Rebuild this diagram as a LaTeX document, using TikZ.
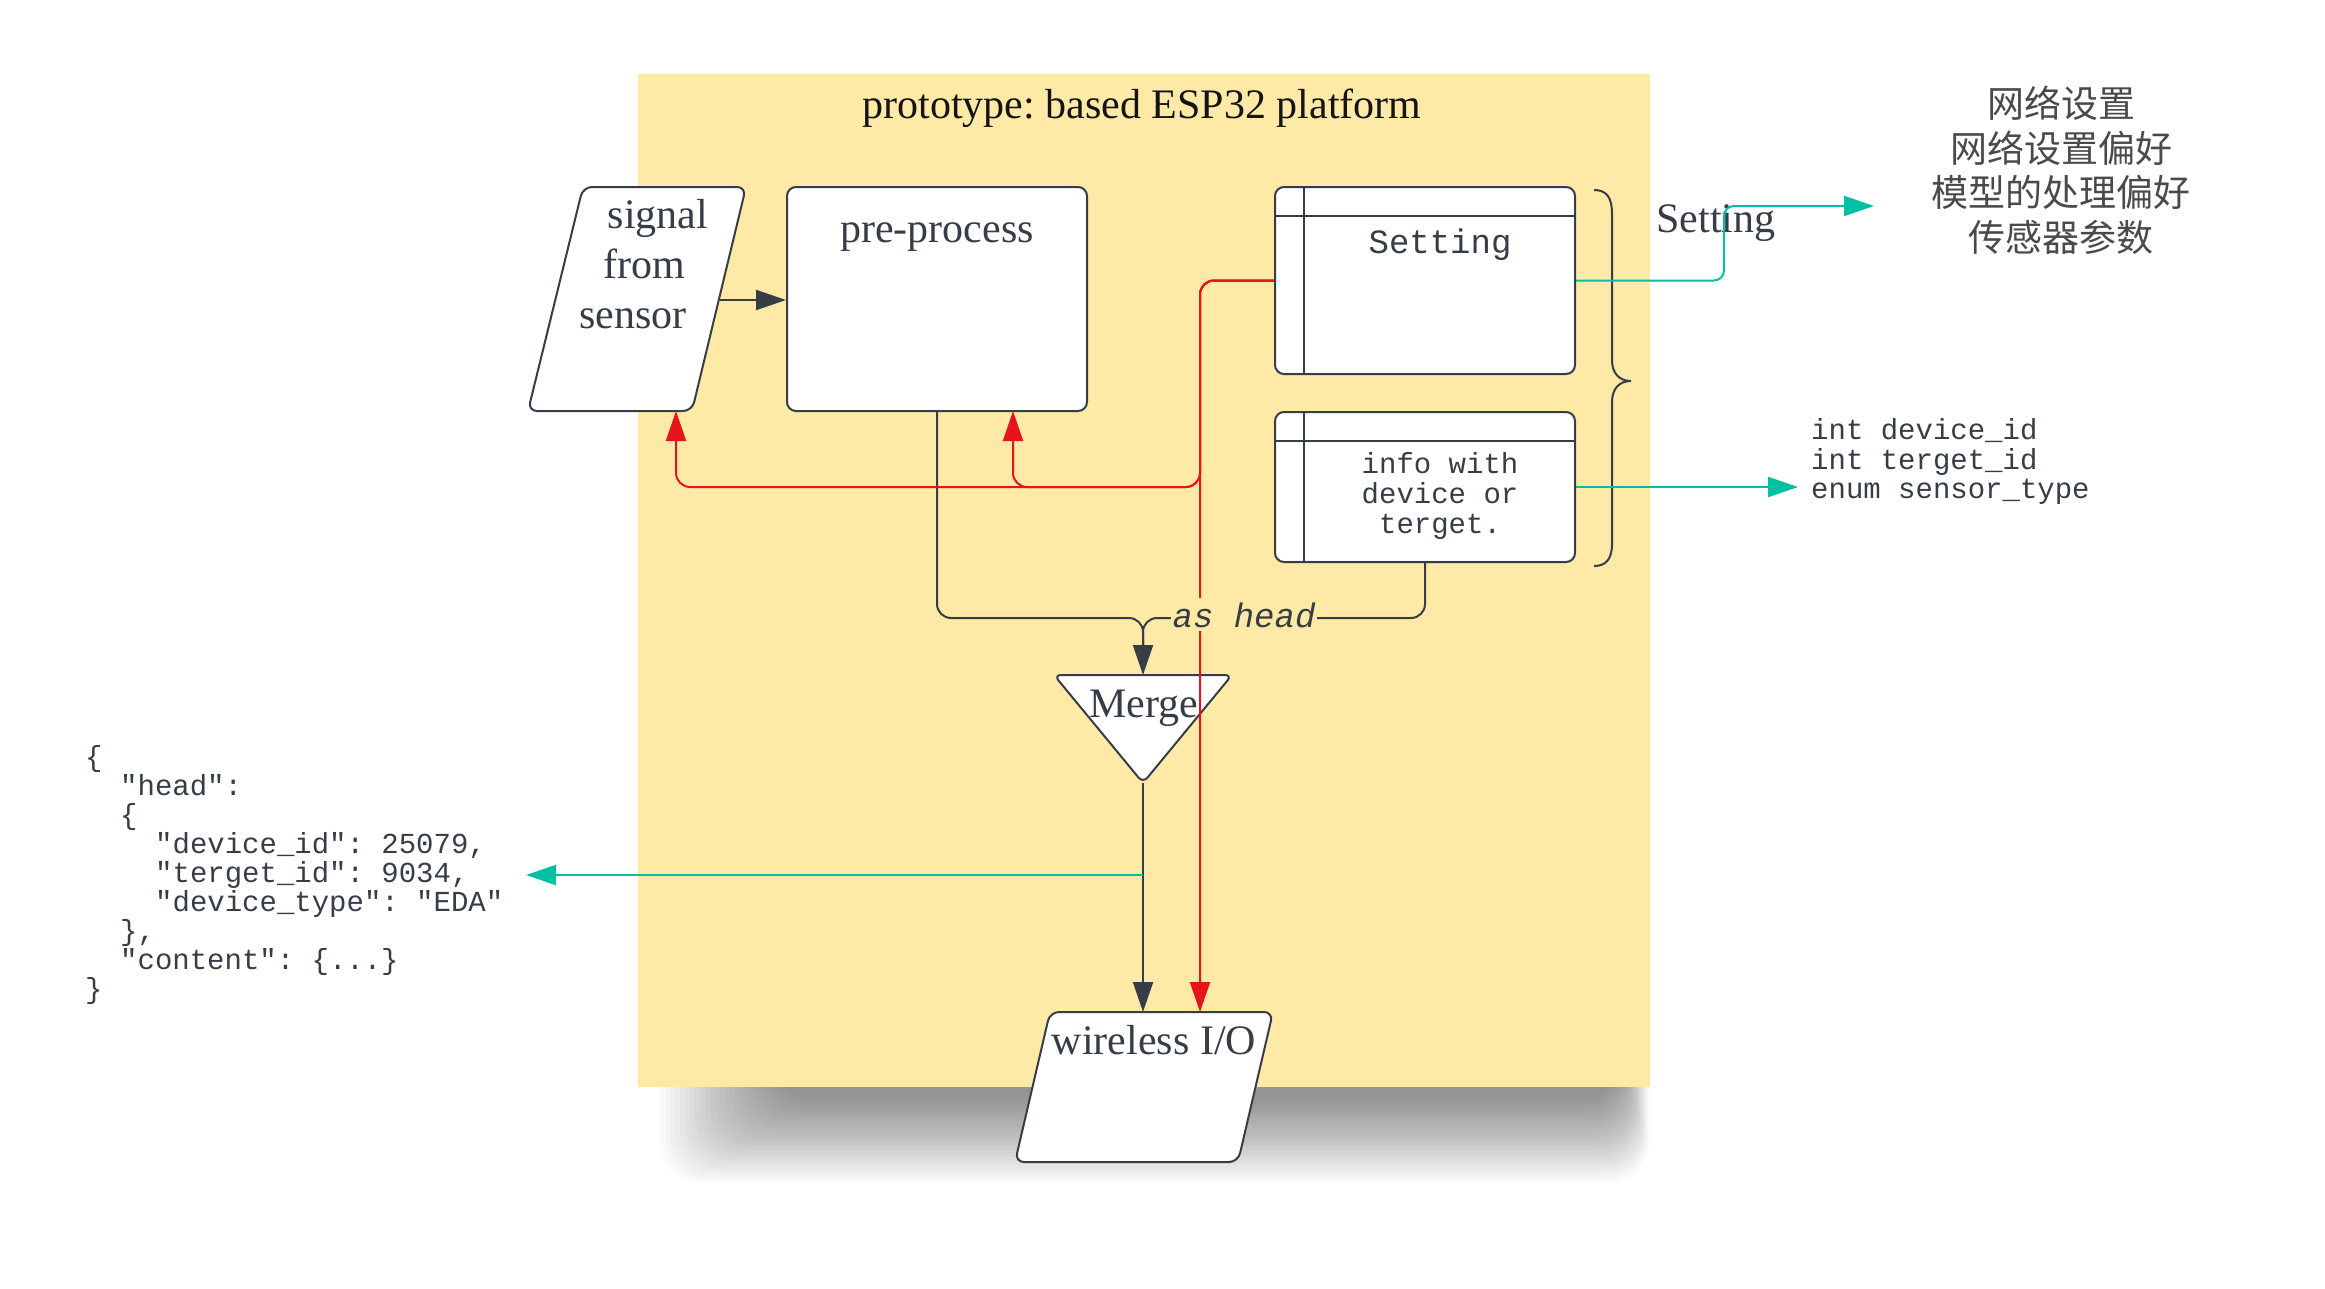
\documentclass[tikz,border=0pt]{standalone}
\usepackage{fontspec}
\setmainfont{Liberation Serif}
\setmonofont{Liberation Mono}
\newfontfamily\cjk{Noto Sans CJK SC}
\usetikzlibrary{arrows.meta}
\definecolor{dk}{HTML}{373D47}
\definecolor{yel}{HTML}{FEE9A6}
\definecolor{tl}{HTML}{00C0A3}
\definecolor{rd}{HTML}{E8141B}
\definecolor{cjkgray}{HTML}{4A4A4A}
\frenchspacing
\tikzset{
  shp/.style={draw=dk, line width=2pt, fill=white, rounded corners=9pt},
  dkline/.style={draw=dk, line width=2pt, rounded corners=14pt},
  rdline/.style={draw=rd, line width=2pt, rounded corners=14pt},
  tlline/.style={draw=tl, line width=2pt, rounded corners=10pt},
  dktip/.style={-{Triangle[length=30pt,width=20pt]}},
  serif/.style={font=\fontsize{42}{50}\selectfont, text=dk, inner sep=0pt, anchor=base},
  monot/.style={font=\ttfamily\fontsize{29}{29}\selectfont, text=dk, inner sep=0pt},
  cjkt/.style={font=\cjk\fontsize{37}{44}\selectfont, text=cjkgray, inner sep=0pt, anchor=base},
}
\begin{document}
\begin{tikzpicture}[x=1pt,y=-1pt]
\useasboundingbox (0,0) rectangle (2325,1288);
\fill[white] (0,0) rectangle (2325,1288);
% soft shadow under the panel
\foreach \i in {1,...,24}{
  \fill[black, opacity=0.021, rounded corners=40pt] (655+5*\i,1000) rectangle (1650-1.2*\i,1186-3.6*\i);
}
% panel
\fill[yel] (638,74) rectangle (1650,1087);
\node[font=\fontsize{42}{50}\selectfont, text=black!92, inner sep=0pt, anchor=base] (title) at (1142,118) {prototype: based ESP32 platform};

% signal from sensor
\draw[shp] (583,187) -- (746,187) -- (692,411) -- (528,411) -- cycle;
\coordinate (sigR) at (719,300);
\coordinate (sigB) at (676,411);
\node[serif] (s1) at (658,228) {signal};
\node[serif] (s2) at (644,278) {from};
\node[serif] (s3) at (633,328) {sensor};

% pre-process
\node[shp, minimum width=300pt, minimum height=224pt, inner sep=0pt] (pre) at (937,299) {};
\node[serif] (pret) at (937,242) {pre-process};
\coordinate (preB) at (1013,411);

% Setting table box
\node[shp, minimum width=300pt, minimum height=187pt, inner sep=0pt] (set) at (1425,280.5) {};
\draw[dk, line width=2pt] ([yshift=-30pt]set.north west) -- ([yshift=-30pt]set.north east);
\draw[dk, line width=2pt] ([xshift=30pt]set.north west) -- ([xshift=30pt]set.south west);
\node[font=\ttfamily\fontsize{34}{34}\selectfont, text=dk, inner sep=0pt, anchor=base] (sett) at (1440,253) {Setting};

% info box
\node[shp, minimum width=300pt, minimum height=150pt, inner sep=0pt] (info) at (1425,487) {};
\draw[dk, line width=2pt] ([yshift=-30pt]info.north west) -- ([yshift=-30pt]info.north east);
\draw[dk, line width=2pt] ([xshift=30pt]info.north west) -- ([xshift=30pt]info.south west);
\node[monot, anchor=base] (i1) at (1440,473) {info with};
\node[monot, anchor=base] (i2) at (1440,503) {device or};
\node[monot, anchor=base] (i3) at (1440,533) {terget.};

% brace
\draw[dk, line width=2pt] (1594,190) .. controls (1607,190) and (1612,198) .. (1612,214)
  -- (1612,360) .. controls (1612,373) and (1619,381) .. (1631,381)
  .. controls (1619,381) and (1612,389) .. (1612,402)
  -- (1612,544) .. controls (1612,559) and (1606,566) .. (1594,566);

% Setting label and CJK list
\node[serif] (setl) at (1716,232) {Setting};
\node[cjkt] (c1) at (2061,117) {网络设置};
\node[cjkt] (c2) at (2061,162) {网络设置偏好};
\node[cjkt] (c3) at (2061,206) {模型的处理偏好};
\node[cjkt] (c4) at (2061,251) {传感器参数};

% field list
\node[monot, anchor=base west] (f1) at (1811,439) {int device\_id};
\node[monot, anchor=base west] (f2) at (1811,469) {int terget\_id};
\node[monot, anchor=base west] (f3) at (1811,498) {enum sensor\_type};

% JSON
\node[monot, anchor=base west] (j1) at (85,766) {\{};
\node[monot, anchor=base west] (j2) at (120,795) {"head":};
\node[monot, anchor=base west] (j3) at (120,824) {\{};
\node[monot, anchor=base west] (j4) at (155,853) {"device\_id": 25079,};
\node[monot, anchor=base west] (j5) at (155,882) {"terget\_id": 9034,};
\node[monot, anchor=base west] (j6) at (155,911) {"device\_type": "EDA"};
\node[monot, anchor=base west] (j7) at (120,940) {\},};
\node[monot, anchor=base west] (j8) at (120,969) {"content": \{...\}};
\node[monot, anchor=base west] (j9) at (85,998) {\}};

% Merge
\draw[shp, rounded corners=7pt] (1054,675) -- (1232,675) -- (1143,783) -- cycle;
\coordinate (mTop) at (1143,675);
\coordinate (mBot) at (1143,783);
\node[serif] (mt) at (1144,717) {Merge};

% wireless I/O
\draw[shp] (1050,1012) -- (1273,1012) -- (1238,1162) -- (1015,1162) -- cycle;
\coordinate (wTop1) at (1143,1012);
\coordinate (wTop2) at (1200,1012);
\node[serif] (wt) at (1154,1054) {wireless I/O};

% dark connectors
\coordinate (jn) at (1143,618);
\coordinate (jnd) at (1143,648);
\draw[dkline, dktip] (sigR) -- (sigR -| pre.west);
\draw[dkline, dktip] (pre.south) |- (jn) -- (mTop);
\draw[dkline] (info.south) |- (jn) -- (jnd);
\draw[dkline, dktip] (mBot) -- (wTop1);

% teal connectors
\coordinate (tj) at (1143,875);
\coordinate (jsonR) at (526,875);
\draw[tlline, dktip] (tj) -- (jsonR);
\coordinate (tk) at (1724,206);
\coordinate (cnA) at (1874,206);
\draw[tlline, dktip] (set.east) -| (tk) -- (cnA);
\coordinate (cnB) at (1798,487);
\draw[tlline, dktip] (info.east) -- (info.east -| cnB);

% red connectors
\coordinate (rk) at (1200,487);
\draw[rdline, dktip] (set.west) -| (wTop2);
\draw[rdline, dktip] (set.west) -| (rk) -| (sigB);
\draw[rdline, dktip] (set.west) -| (rk) -| (preB);

% as head label
\node[font=\ttfamily\itshape\fontsize{34}{34}\selectfont, text=dk, fill=yel, inner xsep=2pt, inner ysep=4pt, anchor=base] (ashead) at (1244,627) {as head};
\end{tikzpicture}
\end{document}
